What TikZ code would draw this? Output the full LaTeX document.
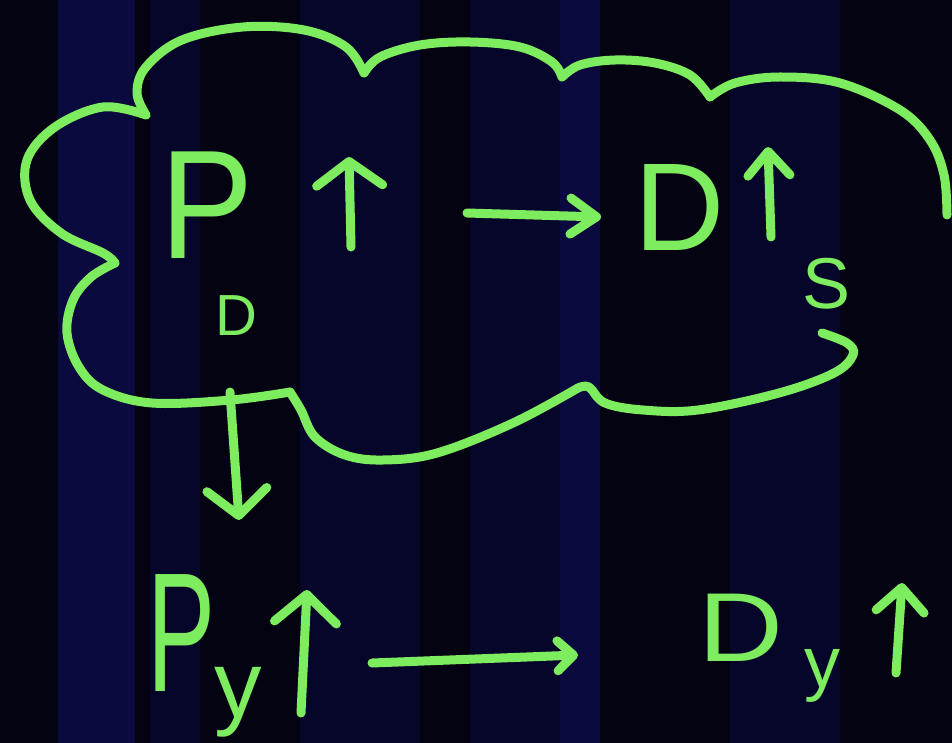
\documentclass[tikz,border=0pt]{standalone}
\usepackage{fontspec}
\setmainfont{Liberation Sans}
\usetikzlibrary{arrows.meta}
\definecolor{chalk}{RGB}{125,236,95}
\definecolor{bgbase}{RGB}{3,3,18}
\definecolor{bgband}{RGB}{10,10,62}
\definecolor{bgmid}{RGB}{6,6,42}
\begin{document}
\begin{tikzpicture}[x=1pt,y=-1pt,
  stroke/.style={draw=chalk,line width=9pt,line cap=round,line join=round},
  chalktext/.style={text=chalk,inner sep=0pt,anchor=center},
]
% background
\fill[bgbase] (0,0) rectangle (952,743);
\fill[bgband] (58,0) rectangle (135,743);
\fill[bgmid] (150,0) rectangle (200,743);
\fill[bgmid] (300,0) rectangle (420,743);
\fill[bgmid] (470,0) rectangle (560,743);
\fill[bgband] (560,0) rectangle (600,743);
\fill[bgmid] (730,0) rectangle (840,743);
\useasboundingbox (0,0) rectangle (952,743);

% cloud
\draw[stroke] plot[smooth,tension=0.6] coordinates {(146,115) (137,93) (146,67) (182,40) (243,27) (304,30) (346,47) (364,73)};
\draw[stroke] plot[smooth,tension=0.6] coordinates {(364,73) (380,57) (420,45) (470,42) (520,47) (552,62) (562,77)};
\draw[stroke] plot[smooth,tension=0.6] coordinates {(562,77) (580,65) (615,60) (655,63) (690,75) (710,97)};
\draw[stroke] plot[smooth,tension=0.6] coordinates {(710,97) (735,83) (780,77) (840,83) (900,110) (930,140) (944,175) (947,215)};
\draw[stroke] plot[smooth,tension=0.6] coordinates {(146,115) (103,107) (55,127) (27,160) (30,200) (61,233) (103,253) (115,263)};
\draw[stroke] plot[smooth,tension=0.6] coordinates {(115,263) (91,277) (73,300) (67,333) (79,367) (103,390) (152,403) (231,400) (290,392)};
\draw[stroke] plot[smooth,tension=0.6] coordinates {(290,392) (301,410) (315,437) (345,455) (383,460) (437,453) (513,423) (578,388)};
\draw[stroke] plot[smooth,tension=0.6] coordinates {(578,388) (589,387) (605,403) (643,410) (698,410) (779,393) (834,373) (853,355) (847,343) (822,333)};

% text
\node[chalktext,font=\fontsize{155}{155}\selectfont] (P1) at (207,205) {\scalebox{0.9}[1]{P}};
\node[chalktext,font=\fontsize{58}{58}\selectfont] (P1sub) at (236,316) {D};
\node[chalktext,font=\fontsize{125}{125}\selectfont] (D1) at (680,208) {D};
\node[chalktext,font=\fontsize{72}{72}\selectfont] (D1sub) at (826,284) {S};
\node[chalktext,font=\fontsize{170}{170}\selectfont] (P2) at (182,633) {\scalebox{0.6}[1]{P}};
\node[chalktext,font=\fontsize{95}{95}\selectfont] (P2sub) at (238,702) {y};
\node[chalktext,font=\fontsize{98}{98}\selectfont] (D2) at (741,628) {\scalebox{1.2}[1]{D}};
\node[chalktext,font=\fontsize{72}{72}\selectfont] (D2sub) at (822,676) {y};

% arrows
\coordinate (u1s) at (351,247); \coordinate (u1e) at (349,157);
\coordinate (r1s) at (467,213); \coordinate (r1e) at (601,217);
\coordinate (u2s) at (771,237); \coordinate (u2e) at (768,147);
\coordinate (ds) at (230,392);  \coordinate (de) at (239,520);
\coordinate (u3s) at (301,713); \coordinate (u3e) at (307,590);
\coordinate (r2s) at (372,663); \coordinate (r2e) at (578,655);
\coordinate (u4s) at (896,673); \coordinate (u4e) at (902,583);

\draw[stroke,-{Straight Barb[round,length=24pt,width=66pt]}] (u1s) -- (u1e);
\draw[stroke,-{Straight Barb[round,length=26pt,width=36pt]}] (r1s) -- (r1e);
\draw[stroke,-{Straight Barb[round,length=24pt,width=42pt]}] (u2s) -- (u2e);
\draw[stroke,-{Straight Barb[round,length=26pt,width=60pt]}] (ds) -- (de);
\draw[stroke,-{Straight Barb[round,length=28pt,width=62pt]}] (u3s) -- (u3e);
\draw[stroke,-{Straight Barb[round,length=16pt,width=30pt]}] (r2s) -- (r2e);
\draw[stroke,-{Straight Barb[round,length=24pt,width=48pt]}] (u4s) -- (u4e);
\end{tikzpicture}
\end{document}
